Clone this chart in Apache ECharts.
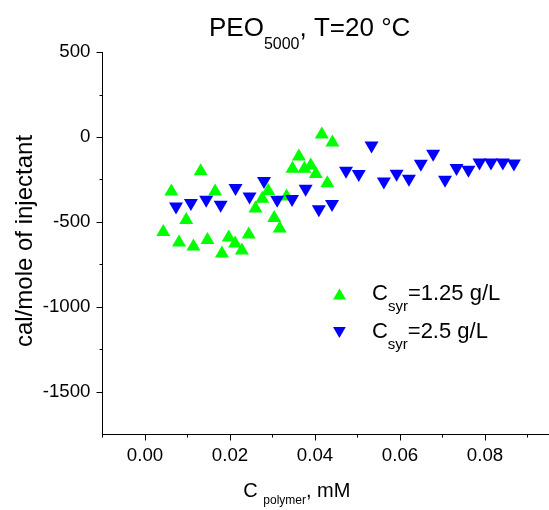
<!DOCTYPE html>
<html>
<head>
<meta charset="utf-8">
<script src="https://cdn.jsdelivr.net/npm/echarts@6/dist/echarts.min.js"></script>
<style>
html,body{margin:0;padding:0;background:#fff;}
#chart{width:549px;height:510px;}
</style>
</head>
<body>
<div id="chart"></div>
<script>
// ---- data ----
var xGreen = [0.0043,0.0062,0.0080,0.0097,0.0114,0.0131,0.0147,0.0165,0.0181,0.0197,0.0212,0.0228,0.0244,0.0260,0.0276,0.0290,0.0304,0.0317,0.0333,0.0347,0.0362,0.0375,0.0390,0.0402,0.0416,0.0429,0.0441];
var yGreen = [-546,-308,-608,-476,-632,-189,-593,-308,-673,-579,-614,-655,-561,-408,-350,-305,-464,-526,-337,-174,-101,-174,-154,-205,28,-259,-19];
var xBlue = [0.0073,0.0108,0.0144,0.0178,0.0213,0.0246,0.0280,0.0311,0.0346,0.0378,0.0409,0.0440,0.0473,0.0503,0.0533,0.0562,0.0592,0.0621,0.0649,0.0678,0.0706,0.0733,0.0761,0.0787,0.0814,0.0842,0.0868];
var yBlue = [-420,-399,-380,-409,-311,-360,-270,-380,-376,-315,-435,-405,-209,-228,-61,-273,-227,-256,-168,-109,-262,-193,-203,-161,-161,-161,-167];
var xTicks = [0, 0.02, 0.04, 0.06, 0.08];
var xMinorTicks = [-0.01, 0.01, 0.03, 0.05, 0.07, 0.09];
var yTicks = [-1500, -1000, -500, 0, 500];
var yMinorTicks = [-1250, -750, -250, 250];
var seriesNames = ['Csyr=1.25 g/L', 'Csyr=2.5 g/L'];
var legendLabels = ['=1.25 g/L', '=2.5 g/L'];

function zip(xs, ys) { return xs.map(function (x, i) { return [x, ys[i]]; }); }

var FONT = 'Liberation Sans, Arial, Helvetica, sans-serif';
var chart = echarts.init(document.getElementById('chart'), null, {renderer: 'canvas'});

var legendRich = {
  a: {fontSize: 22, lineHeight: 22, verticalAlign: 'top', fontFamily: FONT, color: '#000', padding: [0, 0, 0, 21]},
  b: {fontSize: 22, lineHeight: 22, verticalAlign: 'top', fontFamily: FONT, color: '#000', padding: [0, 0, 0, 0]},
  s: {fontSize: 15, lineHeight: 15, verticalAlign: 'top', fontFamily: FONT, color: '#000', padding: [16, 0, 6, 0]}
};
function legendFormatter(name) {
  var i = seriesNames.indexOf(name);
  return '{a|C}{s|syr}{b|' + legendLabels[i] + '}';
}

var option = {
  animation: false,
  backgroundColor: '#fff',
  grid: {left: 102.5, right: 0.25, top: 52.3, bottom: 75.5, containLabel: false, outerBoundsMode: 'none'},
  xAxis: [
    {
      type: 'value', min: -0.01, max: 0.095, position: 'bottom',
      axisLine: {show: true, onZero: false, lineStyle: {color: '#000', width: 1}},
      axisTick: {show: true, inside: false, length: 6, customValues: xTicks, lineStyle: {color: '#000'}},
      axisLabel: {show: true, margin: 12, customValues: xTicks, color: '#000', fontSize: 18.7, fontFamily: FONT,
        formatter: function (v) { return v.toFixed(2); }},
      splitLine: {show: false}
    },
    {
      type: 'value', min: -0.01, max: 0.095, position: 'bottom',
      axisLine: {show: false, onZero: false},
      axisTick: {show: true, inside: false, length: 3, customValues: xMinorTicks, lineStyle: {color: '#000'}},
      axisLabel: {show: false},
      splitLine: {show: false}
    }
  ],
  yAxis: [
    {
      type: 'value', min: -1750, max: 500, position: 'left',
      axisLine: {show: true, onZero: false, lineStyle: {color: '#000', width: 1}},
      axisTick: {show: true, inside: false, length: 6, customValues: yTicks, lineStyle: {color: '#000'}},
      axisLabel: {show: true, margin: 12, customValues: yTicks, color: '#000', fontSize: 18.7, fontFamily: FONT,
        formatter: function (v) { return String(v); }},
      splitLine: {show: false}
    },
    {
      type: 'value', min: -1750, max: 500, position: 'left',
      axisLine: {show: false, onZero: false},
      axisTick: {show: true, inside: false, length: 3, customValues: yMinorTicks, lineStyle: {color: '#000'}},
      axisLabel: {show: false},
      splitLine: {show: false}
    }
  ],
  legend: [
    {
      data: [seriesNames[0]], orient: 'vertical', left: 333, top: 283, padding: 0,
      itemWidth: 13, itemHeight: 11, formatter: legendFormatter,
      textStyle: {rich: legendRich}, selectedMode: false
    },
    {
      data: [seriesNames[1]], orient: 'vertical', left: 333, top: 321.4, padding: 0,
      itemWidth: 13, itemHeight: 11, formatter: legendFormatter,
      textStyle: {rich: legendRich}, selectedMode: false
    }
  ],
  graphic: [
    {
      type: 'text', left: 209, top: 15.5,
      style: {
        text: '{a|PEO}{s|5000}{a|, T=20 °C}',
        rich: {
          a: {fontSize: 26, lineHeight: 26, verticalAlign: 'top', fontFamily: FONT, fill: '#000'},
          s: {fontSize: 16, lineHeight: 16, verticalAlign: 'top', fontFamily: FONT, fill: '#000', padding: [21, 0, 0, 0]}
        }
      }
    },
    {
      type: 'text', left: 243.3, top: 481.3,
      style: {
        text: '{a|C }{s|polymer}{a|, mM}',
        rich: {
          a: {fontSize: 20, lineHeight: 20, verticalAlign: 'top', fontFamily: FONT, fill: '#000'},
          s: {fontSize: 12, lineHeight: 12, verticalAlign: 'top', fontFamily: FONT, fill: '#000', padding: [13.5, 0, 0, 0]}
        }
      }
    },
    {
      type: 'text', x: 25, y: 241, rotation: Math.PI / 2,
      style: {
        text: 'cal/mole of injectant', x: 0, y: 0, align: 'center', verticalAlign: 'middle',
        fontSize: 24, fontFamily: FONT, fill: '#000'
      }
    }
  ],
  series: [
    {
      name: seriesNames[0], type: 'scatter', xAxisIndex: 0, yAxisIndex: 0,
      symbol: 'triangle', symbolSize: [14, 12],
      itemStyle: {color: '#00ff00', opacity: 1},
      data: zip(xGreen, yGreen)
    },
    {
      name: seriesNames[1], type: 'scatter', xAxisIndex: 0, yAxisIndex: 0,
      symbol: 'path://M0,0 L10,0 L5,8.6 Z', symbolSize: [14, 12],
      itemStyle: {color: '#0000ff', opacity: 1},
      data: zip(xBlue, yBlue)
    }
  ]
};
chart.setOption(option);
</script>
</body>
</html>
